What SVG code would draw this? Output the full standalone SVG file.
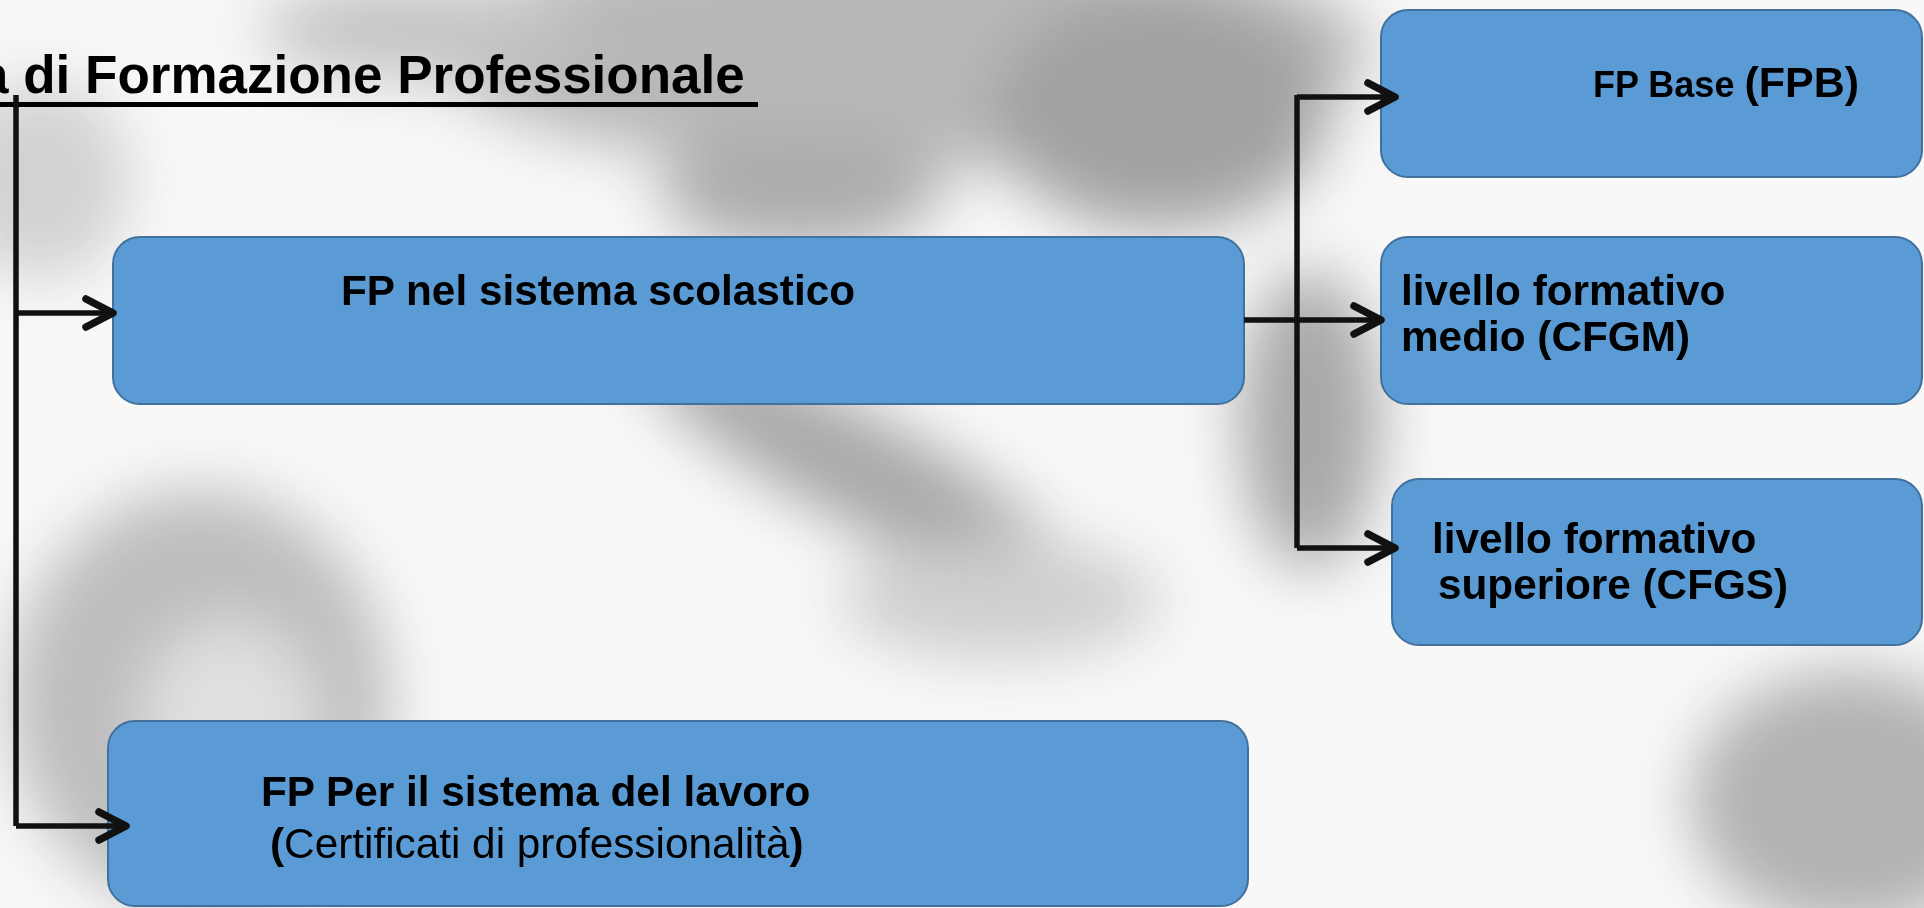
<svg xmlns="http://www.w3.org/2000/svg" width="1924" height="908" viewBox="0 0 1924 908">
  <style>
    .box { fill: #5B9BD5; stroke: #41719C; stroke-width: 2; }
    .t { font-family: "Liberation Sans", Arial, sans-serif; font-weight: bold; fill: #000; }
    .reg { font-weight: normal; }
    .conn { stroke: #111; stroke-width: 5.5; fill: none; }
  </style>
  <defs>
    <marker id="arr" markerUnits="userSpaceOnUse" markerWidth="44" markerHeight="44" refX="32" refY="22" orient="auto">
      <path d="M5,8 L32,22 L5,36" fill="none" stroke="#111" stroke-width="7.5" stroke-linecap="round" stroke-linejoin="round"/>
    </marker>
    <filter id="blur" x="-50%" y="-50%" width="200%" height="200%">
      <feGaussianBlur stdDeviation="30"/>
    </filter>
  </defs>

  <rect x="0" y="0" width="1924" height="908" fill="#f8f8f8"/>
  <g id="background" filter="url(#blur)">
    <ellipse cx="900" cy="50" rx="470" ry="120" fill="#b8b8b8"/>
    <ellipse cx="1160" cy="110" rx="170" ry="120" fill="#a2a2a2"/>
    <ellipse cx="800" cy="190" rx="140" ry="60" fill="#acacac"/>
    <ellipse cx="860" cy="470" rx="240" ry="55" fill="#a8a8a8" transform="rotate(28 860 470)"/>
    <ellipse cx="1000" cy="600" rx="160" ry="60" fill="#cfcfcf"/>
    <ellipse cx="200" cy="700" rx="190" ry="210" fill="#bdbdbd"/>
    <ellipse cx="230" cy="720" rx="90" ry="100" fill="#e0e0e0"/>
    <ellipse cx="1850" cy="800" rx="160" ry="130" fill="#b2b2b2"/>
    <ellipse cx="40" cy="180" rx="90" ry="100" fill="#d2d2d2"/>
    <ellipse cx="1310" cy="420" rx="70" ry="150" fill="#a8a8a8"/>
    <ellipse cx="420" cy="30" rx="160" ry="50" fill="#c4c4c4"/>
  </g>

  <g id="title">
    <text class="t" x="-21" y="93" font-size="53">a di Formazione Professionale</text>
    <rect x="0" y="102" width="758" height="5" fill="#000"/>
  </g>

  <g id="node-scolastico">
    <rect class="box" x="113" y="237" width="1131" height="167" rx="27"/>
    <text class="t" x="341" y="305" font-size="42.3">FP nel sistema scolastico</text>
  </g>

  <g id="node-lavoro">
    <rect class="box" x="108" y="721" width="1140" height="185" rx="27"/>
    <text class="t" x="261" y="806" font-size="42.3">FP Per il sistema del lavoro</text>
    <text class="t" x="270" y="858" font-size="42.3">(<tspan class="reg">Certificati di professionalità</tspan>)</text>
  </g>

  <g id="node-fpb">
    <rect class="box" x="1381" y="10" width="541" height="167" rx="27"/>
    <text class="t" x="1593" y="97"><tspan font-size="36">FP Base </tspan><tspan font-size="43">(FPB)</tspan></text>
  </g>

  <g id="node-cfgm">
    <rect class="box" x="1381" y="237" width="541" height="167" rx="27"/>
    <text class="t" x="1401" y="305" font-size="42.3">livello formativo</text>
    <text class="t" x="1401" y="351" font-size="42.3">medio (CFGM)</text>
  </g>

  <g id="node-cfgs">
    <rect class="box" x="1392" y="479" width="530" height="166" rx="27"/>
    <text class="t" x="1432" y="553" font-size="42.3">livello formativo</text>
    <text class="t" x="1438" y="599" font-size="42.3">superiore (CFGS)</text>
  </g>

  <g id="connectors">
    <path class="conn" d="M16,95 L16,826"/>
    <path class="conn" d="M16,313 L113,313" marker-end="url(#arr)"/>
    <path class="conn" d="M16,826 L126,826" marker-end="url(#arr)"/>
    <path class="conn" d="M1297,95 L1297,548"/>
    <path class="conn" d="M1297,97 L1395,97" marker-end="url(#arr)"/>
    <path class="conn" d="M1244,320 L1381,320" marker-end="url(#arr)"/>
    <path class="conn" d="M1297,548 L1395,548" marker-end="url(#arr)"/>
  </g>
</svg>
